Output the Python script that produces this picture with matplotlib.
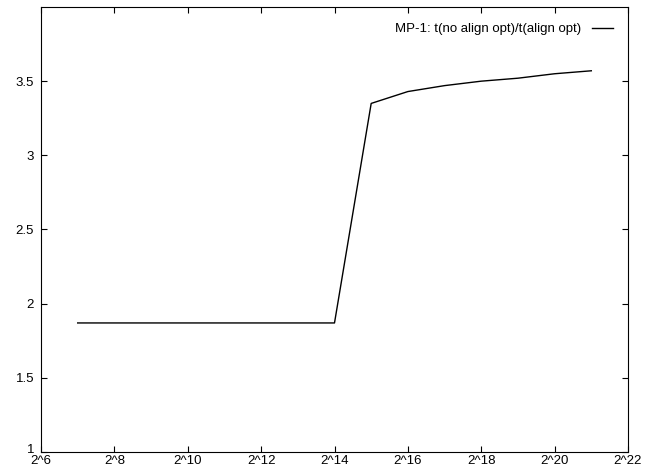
import matplotlib
matplotlib.use("Agg")
import matplotlib.pyplot as plt
from matplotlib.transforms import ScaledTranslation

# message size exponents and speedup ratio
exponents = [7, 8, 9, 10, 11, 12, 13, 14, 15, 16, 17, 18, 19, 20, 21]
ratio = [1.87, 1.87, 1.87, 1.87, 1.87, 1.87, 1.87, 1.87,
         3.35, 3.43, 3.47, 3.50, 3.52, 3.55, 3.57]
tick_exps = [6, 8, 10, 12, 14, 16, 18, 20, 22]

plt.rcParams['font.family'] = ['Liberation Sans', 'DejaVu Sans']
plt.rcParams['font.size'] = 9.5

fig = plt.figure(figsize=(6.56, 4.69), dpi=100)
ax = fig.add_axes([41/656, 17/469, 587/656, 445/469])

x = [2**e for e in exponents]
ax.plot(x, ratio, color='black', lw=1, label='MP-1: t(no align opt)/t(align opt)')

ax.set_xscale('log', base=2)
ax.set_xlim(2**6, 2**22)
ax.set_ylim(1, 4)
ax.set_xticks([2**e for e in tick_exps])
ax.set_xticklabels(['2^%d' % e for e in tick_exps])
ax.xaxis.set_minor_locator(matplotlib.ticker.NullLocator())
ax.set_yticks([1, 1.5, 2, 2.5, 3, 3.5])
ax.set_yticklabels(['1', '1.5', '2', '2.5', '3', '3.5'])
ax.tick_params(direction='in', length=4, width=0.8, top=True, right=True, pad=2)
ax.tick_params(axis='y', pad=5)
for s in ax.spines.values():
    s.set_linewidth(0.8)

# nudge the bottom y label up so it clears 2^6, like the original
lab = ax.get_yticklabels()[0]
lab.set_transform(lab.get_transform() + ScaledTranslation(0, 4/100, fig.dpi_scale_trans))

ax.legend(loc='upper right', frameon=False, markerfirst=False,
          handlelength=1.6, handletextpad=0.8, borderaxespad=0.3,
          bbox_to_anchor=(0.99, 0.985))

fig.savefig('out.png', dpi=100)
